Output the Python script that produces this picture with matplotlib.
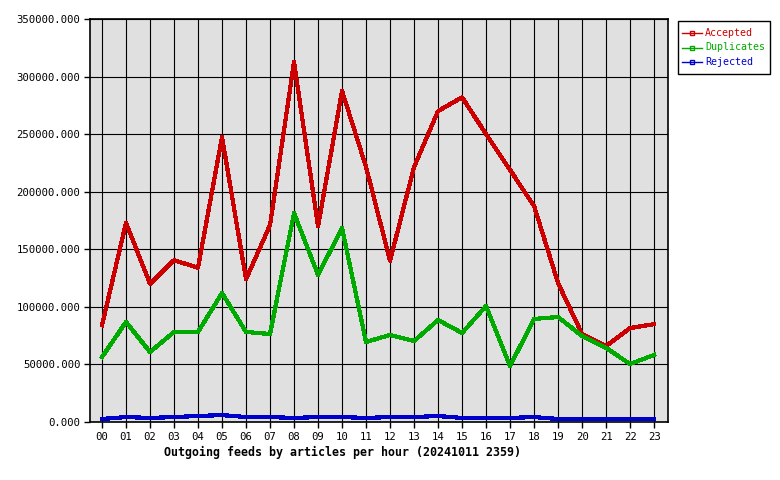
import matplotlib
matplotlib.use("Agg")
import matplotlib.pyplot as plt
from matplotlib.lines import Line2D
from matplotlib.patches import Rectangle

# Hours and series
hours = ["00", "01", "02", "03", "04", "05", "06", "07", "08", "09", "10", "11",
         "12", "13", "14", "15", "16", "17", "18", "19", "20", "21", "22", "23"]
accepted = [84000, 173000, 120000, 140500, 134000, 247500, 124000, 171000,
            312600, 170000, 287500, 221500, 140000, 221500, 270000, 282000,
            250000, 218900, 187600, 120700, 76400, 66000, 81600, 85000]
duplicates = [56400, 86900, 60800, 78200, 78200, 112000, 78200, 76400,
              181500, 127700, 168500, 69500, 75600, 70300, 88600, 77300,
              100700, 48600, 89500, 91200, 74700, 64300, 50400, 58200]
rejected = [2600, 4300, 3500, 4300, 5200, 6000, 4300, 4300,
            3500, 4300, 4300, 3500, 4300, 4300, 5200, 3500,
            3500, 3500, 4300, 2600, 2600, 2600, 2600, 2600]
yticks = [0, 50000, 100000, 150000, 200000, 250000, 300000, 350000]
labels = ["Accepted", "Duplicates", "Rejected"]

RED = "#cc0000"
GREEN = "#00aa00"
BLUE = "#0000cc"
FONT = "DejaVu Sans Mono"
W, H = 780, 480

fig = plt.figure(figsize=(7.8, 4.8), dpi=100)
ax = fig.add_axes([90 / W, 58 / H, 578 / W, 403 / H])
ax.set_facecolor("#e0e0e0")

x = list(range(len(hours)))
ax.plot(x, accepted, color=RED, lw=2.3, antialiased=False, zorder=3)
ax.plot(x, duplicates, color=GREEN, lw=2.3, antialiased=False, zorder=3)
ax.plot(x, rejected, color=BLUE, lw=2.3, antialiased=False, zorder=3)

ax.set_xlim(-0.5, 23.58)
ax.set_ylim(0, 350000)
ax.set_xticks(x)
ax.set_xticklabels(hours, fontfamily=FONT, fontsize=7.7)
ax.set_yticks(yticks)
ax.set_yticklabels([f"{v}.000" for v in yticks], fontfamily=FONT, fontsize=7.7)
ax.tick_params(length=4, width=1, color="black", pad=3)
ax.grid(True, color="black", lw=0.8, zorder=1)
ax.set_axisbelow(True)
for s in ax.spines.values():
    s.set_linewidth(1.2)

fig.text(343 / W, 1 - 452 / H, "Outgoing feeds by articles per hour (20241011 2359)",
         ha="center", va="center", fontfamily=FONT, fontsize=8.4, fontweight="bold")

# legend box drawn by hand so it sits where the original one does
fig.patches.append(Rectangle((678 / W, 1 - 74 / H), 92 / W, 53 / H,
                             transform=fig.transFigure, facecolor="white",
                             edgecolor="black", lw=1))
for i, (lab, c) in enumerate(zip(labels, (RED, GREEN, BLUE))):
    yy = 1 - (33 + 14.5 * i) / H
    fig.add_artist(Line2D([682 / W, 702 / W], [yy, yy], transform=fig.transFigure,
                          color=c, lw=1))
    fig.add_artist(Line2D([692 / W], [yy], transform=fig.transFigure, color=c,
                          marker="s", markersize=3, markerfacecolor="none",
                          markeredgecolor=c, lw=0))
    fig.text(705 / W, yy, lab, color=c, ha="left", va="center",
             fontfamily=FONT, fontsize=7.2)

fig.savefig("out.png", dpi=100)
